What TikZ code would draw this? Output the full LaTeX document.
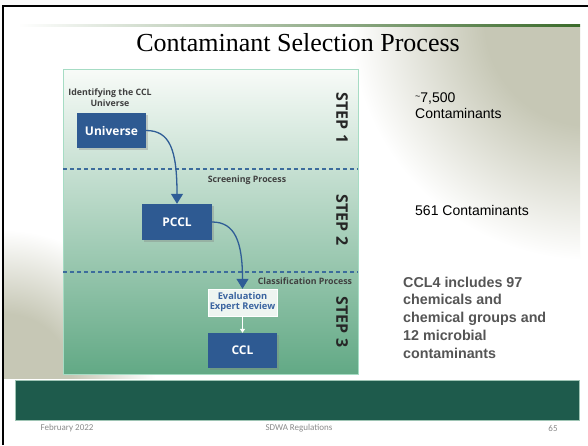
\documentclass[tikz,border=0pt]{standalone}
\usepackage{fontspec}
\setmainfont{Liberation Serif}
\newfontfamily\arialf{Liberation Sans}
\newfontfamily\dsans{Open Sans}
\newfontfamily\calib{Carlito}
\usetikzlibrary{arrows.meta,shadows}
\definecolor{boxblue}{HTML}{2E5A92}
\definecolor{arrowblue}{HTML}{2F5D96}
\definecolor{dashblue}{HTML}{3C6C9C}
\definecolor{diagtop}{HTML}{F8FBF8}
\definecolor{diagbot}{HTML}{62A985}
\definecolor{diagborder}{HTML}{A6DCC4}
\definecolor{footgreen}{HTML}{1E5B4C}
\definecolor{footline}{HTML}{9EC4B4}
\definecolor{grass}{HTML}{C6C7B5}
\definecolor{titlegreen}{HTML}{3A6A2A}
\definecolor{graytext}{HTML}{555555}
\definecolor{foottext}{HTML}{8A8A8A}
\definecolor{evalfill}{HTML}{EEF5F1}
\definecolor{evaltext}{HTML}{3A64A0}
\pgfdeclareradialshading{grassfade}{\pgfpoint{0bp}{0bp}}{color(0bp)=(grass); color(11bp)=(grass); color(25bp)=(white); color(50bp)=(white)}
\tikzset{
  bluebox/.style={fill=boxblue, text=white, font=\dsans\bfseries\fontsize{12}{13}\selectfont,
    minimum width=69pt, minimum height=35pt, inner sep=0pt,
    drop shadow={shadow xshift=1.5pt, shadow yshift=-1.5pt, opacity=.35}},
  evalbox/.style={fill=evalfill, draw=white, text=evaltext, align=center,
    font=\dsans\bfseries\fontsize{9.3}{10}\selectfont,
    minimum width=69pt, minimum height=27pt, inner sep=0pt,
    drop shadow={shadow xshift=1.2pt, shadow yshift=-1.2pt, opacity=.3}},
  steplabel/.style={rotate=-90, font=\dsans\bfseries\fontsize{16}{17}\selectfont, text=black!85},
  proclabel/.style={font=\dsans\bfseries\fontsize{8.8}{11}\selectfont, text=black!75, inner sep=0pt},
  flowarrow/.style={draw=arrowblue, line width=1.3pt, -{Triangle[width=12pt,length=10pt]}},
  sepline/.style={draw=dashblue, line width=1.2pt, dash pattern=on 4pt off 3pt},
  righttext/.style={font=\arialf\fontsize{14}{17}\selectfont, anchor=base west, inner sep=0pt},
  foot/.style={font=\calib\fontsize{9}{10}\selectfont, text=foottext, inner sep=0pt}
}
\begin{document}
\begin{tikzpicture}[x=1pt,y=-1pt]
\useasboundingbox (0,0) rectangle (588,445);
\fill[white!98!black] (0,0) rectangle (588,445);
\fill[white] (4,6) rectangle (588,445);
% grass texture approximations
\begin{scope}
  \clip (4,27) rectangle (580,378);
  \shade[shading=grassfade] (590,20) circle (240);
\end{scope}
\begin{scope}
  \clip (4,6) rectangle (580,378);
  \shade[shading=grassfade] (5,380) circle (150);
\end{scope}
% black border
\draw[black, line width=2.2pt] (3,445) -- (3,6) -- (588,6);
% title line
\shade[left color=white, right color=titlegreen] (18,24) rectangle (580,26.5);
\node[font=\fontsize{26}{28}\selectfont] (title) at (298,43) {Contaminant Selection Process};
% diagram panel
\shade[top color=diagtop, bottom color=diagbot] (63,69) rectangle (358,374);
\draw[diagborder, line width=1pt] (63,69) rectangle (358,374);
\coordinate (d1l) at (63,169); \coordinate (d1r) at (358,169);
\coordinate (d2l) at (63,272); \coordinate (d2r) at (358,272);
\draw[sepline] (d1l) -- (d1r);
\draw[sepline] (d2l) -- (d2r);
\node[proclabel, align=center] (ident) at (110,98) {Identifying the CCL\\Universe};
\node[proclabel] (screen) at (247,180) {Screening Process};
\node[proclabel] (classif) at (305,281) {Classification Process};
\node[steplabel] (s1) at (342,118) {STEP 1};
\node[steplabel] (s2) at (342,220) {STEP 2};
\node[steplabel] (s3) at (342,322) {STEP 3};
\node[bluebox] (univ) at (111.5,130.5) {Universe};
\node[bluebox, minimum width=70pt, minimum height=36pt] (pccl) at (177,222) {PCCL};
\node[evalbox] (eval) at (242.5,302.5) {Evaluation\\Expert Review};
\node[bluebox] (ccl) at (242.5,350.5) {CCL};
\draw[flowarrow] (univ.east) .. controls (170,130.5) and (177,150) .. (pccl.north);
\draw[flowarrow] (pccl.east) .. controls (235,222) and (242.5,242) .. (eval.north);
\draw[white, line width=1pt, -{Triangle[width=5pt,length=4pt]}] (eval.south) -- (ccl.north);
% right texts
\node[righttext] (n1) at (415,102) {\raisebox{3pt}{\fontsize{9}{9}\selectfont\textasciitilde}7,500};
\node[righttext] (n2) at (415,118) {Contaminants};
\node[righttext] (n3) at (415,215) {561 Contaminants};
\node[font=\arialf\bfseries\fontsize{14.3}{17.8}\selectfont, text=graytext, align=left,
  anchor=north west, inner sep=0pt] (ccl4) at (403,276.5)
  {CCL4 includes 97\\chemicals and\\chemical groups and\\12 microbial\\contaminants};
% footer
\fill[footgreen] (15,380) rectangle (579,420);
\draw[footline, line width=0.8pt] (15,380) rectangle (579,420);
\node[foot] (date) at (67,428) {February 2022};
\node[foot] (sdwa) at (299,428) {SDWA Regulations};
\node[foot] (page) at (553,428) {65};
\end{tikzpicture}
\end{document}
